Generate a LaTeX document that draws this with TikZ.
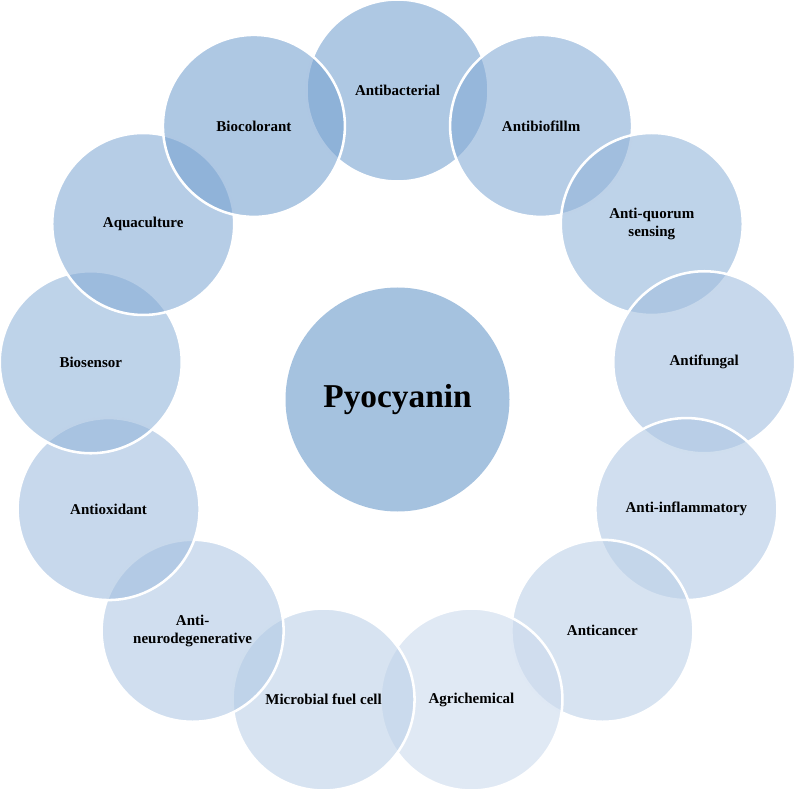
\documentclass[tikz,border=0pt]{standalone}
\usepackage{fontspec}
\setmainfont{Liberation Serif}
\usetikzlibrary{calc}
\definecolor{cdark}{RGB}{120,163,209}
\definecolor{clight}{RGB}{203,218,237}
\definecolor{ccenter}{RGB}{165,194,223}
\begin{document}
\begin{tikzpicture}[x=0.75pt,y=-0.75pt,
  petal/.style={circle, inner sep=0pt, minimum size=136.5pt, draw=white,
    line width=1.9pt, fill opacity=0.6, draw opacity=1, text opacity=1,
    align=center, font=\fontsize{11.25}{13.5}\selectfont\bfseries},
  hub/.style={circle, inner sep=0pt, minimum size=168pt, fill=ccenter,
    font=\fontsize{25}{30}\selectfont\bfseries}]
\useasboundingbox (0,0) rectangle (795,791);
\coordinate (c) at (397.5,399.5);
\node[hub] (pyo) at (c) {Pyocyanin};
\foreach \nm/\txt [count=\i from 0] in {
  antibac/{Antibacterial},
  antibio/{Antibiofillm},
  quorum/{Anti-quorum\\sensing},
  fungal/{Antifungal},
  inflam/{Anti-inflammatory},
  cancer/{Anticancer},
  agri/{Agrichemical},
  mfc/{Microbial fuel cell},
  neuro/{Anti-\\neurodegenerative},
  oxid/{Antioxidant},
  sensor/{Biosensor},
  aqua/{Aquaculture},
  color/{Biocolorant}} {
  \pgfmathsetmacro\ang{-90+\i*360/13}
  \pgfmathtruncatemacro\p{round(100*abs(\i-6)/6)}
  \node[petal, fill=cdark!\p!clight] (\nm) at ($(c)+(\ang:309)$) {\txt};
}
\end{tikzpicture}
\end{document}
